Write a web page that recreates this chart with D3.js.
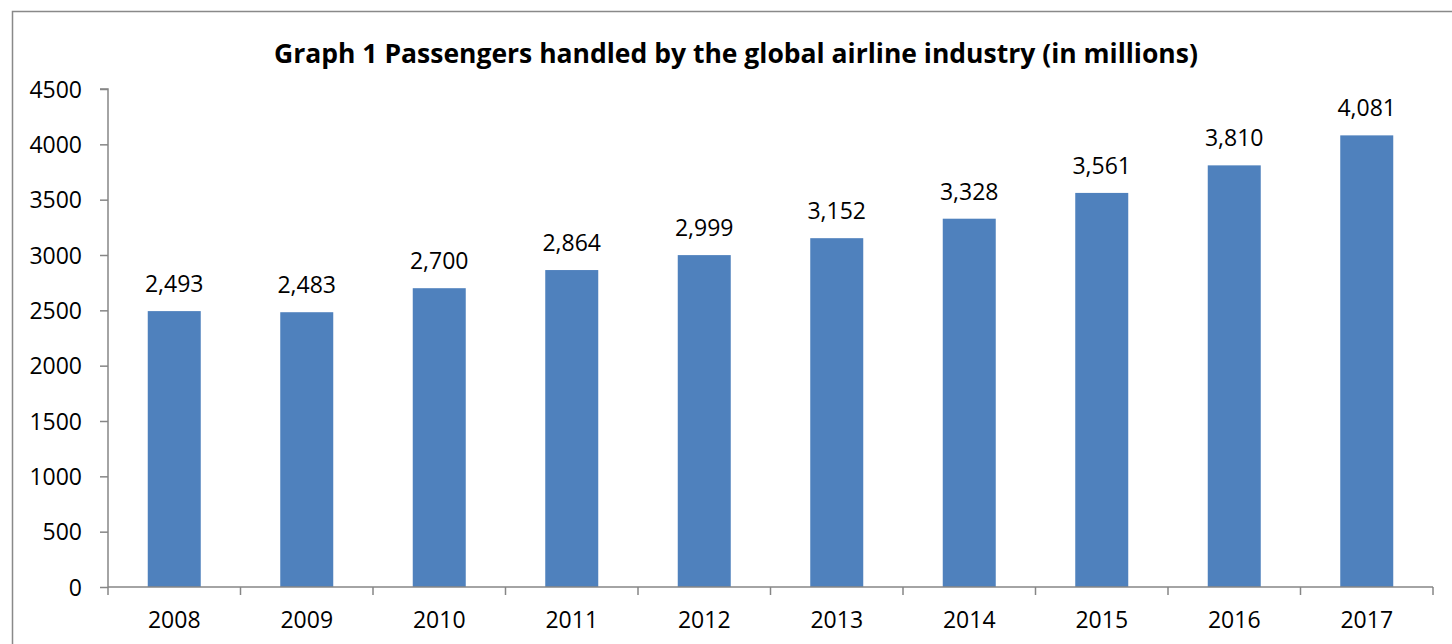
<!DOCTYPE html>
<html><head><meta charset="utf-8">
<script src="https://cdn.jsdelivr.net/npm/d3@7"></script>
<style>
html,body{margin:0;padding:0;background:#fff;}
svg text{font-family:"Open Sans","Noto Sans",sans-serif;fill:#000;}
</style></head>
<body>
<script>
const years = ["2008","2009","2010","2011","2012","2013","2014","2015","2016","2017"];
const passengers = [2493,2483,2700,2864,2999,3152,3328,3561,3810,4081];
const yTicks = [0,500,1000,1500,2000,2500,3000,3500,4000,4500];
const title = "Graph 1 Passengers handled by the global airline industry (in millions)";

const W = 1452, H = 644;
const pLeft = 108, pRight = 1433, pTop = 89, pBottom = 587;
const svg = d3.select("body").append("svg").attr("width", W).attr("height", H);

svg.append("rect").attr("x", 12.5).attr("y", 11.5).attr("width", 1460).attr("height", 660)
  .attr("fill", "none").attr("stroke", "#898989").attr("stroke-width", 1.5);

const x = d3.scaleBand().domain(years).range([pLeft, pRight]).paddingInner(0.6).paddingOuter(0.3);
const y = d3.scaleLinear().domain([0, 4500]).range([pBottom, pTop]);

svg.append("text").attr("x", 736).attr("y", 63).attr("text-anchor", "middle")
  .style("font-size", "26.5px").style("font-weight", "bold").text(title);

svg.selectAll("rect.bar").data(passengers).enter().append("rect").attr("class", "bar")
  .attr("x", (d, i) => x(years[i])).attr("width", x.bandwidth())
  .attr("y", d => y(d)).attr("height", d => y(0) - y(d)).attr("fill", "#4F81BD");

const fmt = d3.format(",");
svg.selectAll("text.lbl").data(passengers).enter().append("text").attr("class", "lbl")
  .attr("x", (d, i) => x(years[i]) + x.bandwidth() / 2).attr("y", d => y(d) - 19)
  .attr("text-anchor", "middle").style("font-size", "23px").text(d => fmt(d));

// y axis
const ya = svg.append("g").attr("transform", `translate(${pLeft},0)`)
  .call(d3.axisLeft(y).tickValues(yTicks).tickSize(8).tickPadding(18).tickFormat(d3.format("d")));
ya.select(".domain").attr("stroke", "#868686").attr("stroke-width", 1.5).attr("d", `M-8,${pTop}H0V${pBottom}`);
ya.selectAll(".tick line").attr("stroke", "#868686").attr("stroke-width", 1.5);
ya.selectAll(".tick text").style("font-size", "23px").style("font-family", '"Open Sans",sans-serif').attr("fill", "#000").attr("dy", "0.35em");

// x axis
const xa = svg.append("g").attr("transform", `translate(0,${pBottom})`)
  .call(d3.axisBottom(x).tickSize(0).tickPadding(25));
xa.select(".domain").attr("stroke", "#868686").attr("stroke-width", 1.5).attr("d", `M${pLeft},0H${pRight}`);
xa.selectAll(".tick text").style("font-size", "23px").style("font-family", '"Open Sans",sans-serif').attr("fill", "#000");
const bounds = d3.range(years.length + 1).map(i => pLeft + i * (pRight - pLeft) / years.length);
xa.selectAll("line.bt").data(bounds).enter().append("line").attr("class", "bt")
  .attr("x1", d => d).attr("x2", d => d).attr("y1", 0).attr("y2", 8)
  .attr("stroke", "#868686").attr("stroke-width", 1.5);
</script>
</body></html>
